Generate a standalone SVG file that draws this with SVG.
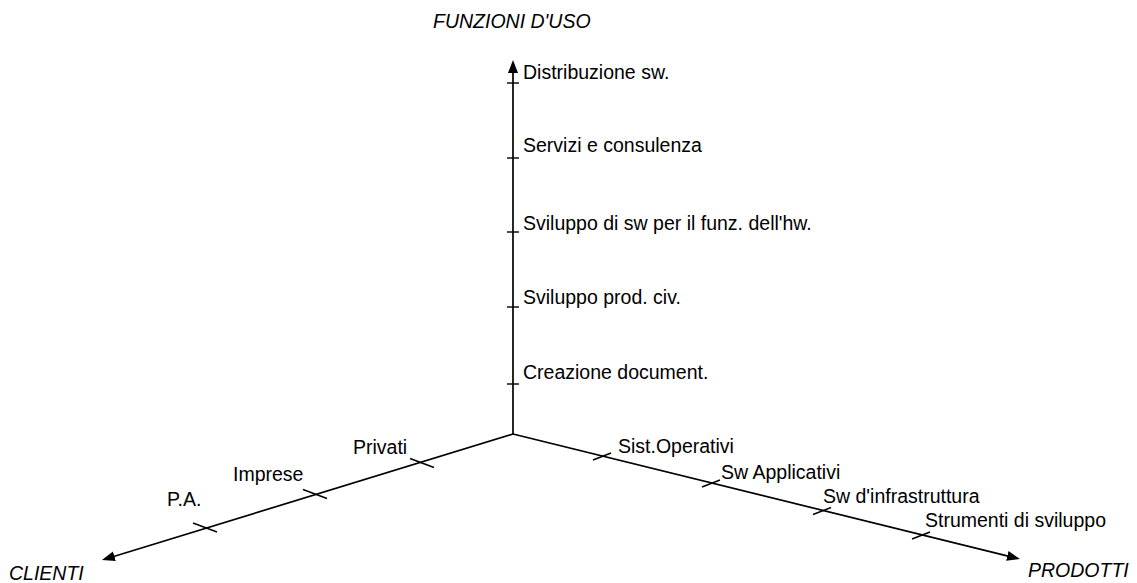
<svg xmlns="http://www.w3.org/2000/svg" width="1137" height="583" viewBox="0 0 1137 583">
<style>
.ax{stroke:#000;stroke-width:1.7;fill:none}
.tk{stroke:#000;stroke-width:1.4;fill:none}
.lb{font-family:"Liberation Sans",Arial,sans-serif;font-size:19.5px;fill:#000}
.tt{font-family:"Liberation Sans",Arial,sans-serif;font-size:19.5px;font-style:italic;fill:#000}
</style>
<defs>
<marker id="ah" markerUnits="userSpaceOnUse" markerWidth="14" markerHeight="11" refX="5" refY="5" orient="auto" viewBox="0 0 14 10">
<path d="M0,0 L13,5 L0,10 z" fill="#000"/>
</marker>
</defs>
<rect width="1137" height="583" fill="#fff"/>
<g id="connectors">
<line class="ax" x1="513" y1="434" x2="513" y2="68" marker-end="url(#ah)"/>
<line class="ax" x1="513" y1="434" x2="109.6" y2="557.7" marker-end="url(#ah)"/>
<line class="ax" x1="513" y1="434" x2="1012.2" y2="557.1" marker-end="url(#ah)"/>
<g id="ticks">
<line class="tk" x1="507" y1="83" x2="519" y2="83"/>
<line class="tk" x1="507" y1="158" x2="519" y2="158"/>
<line class="tk" x1="507" y1="232" x2="519" y2="232"/>
<line class="tk" x1="507" y1="307" x2="519" y2="307"/>
<line class="tk" x1="507" y1="384" x2="519" y2="384"/>
<line class="tk" x1="410" y1="458.5" x2="434" y2="467.5"/>
<line class="tk" x1="303" y1="489.5" x2="327" y2="498.5"/>
<line class="tk" x1="193" y1="523" x2="217" y2="532"/>
<line class="tk" x1="593" y1="460" x2="611" y2="453"/>
<line class="tk" x1="702" y1="487" x2="720" y2="480"/>
<line class="tk" x1="813" y1="514.5" x2="831" y2="507.5"/>
<line class="tk" x1="912" y1="539" x2="930" y2="532"/>
</g>
</g>
<g id="axis-funzioni"><text class="tt" x="433" y="28">FUNZIONI D'USO</text></g>
<g id="axis-clienti"><text class="tt" x="9" y="580">CLIENTI</text></g>
<g id="axis-prodotti"><text class="tt" x="1028" y="577">PRODOTTI</text></g>
<g id="f-distribuzione"><text class="lb" x="523" y="79">Distribuzione sw.</text></g>
<g id="f-servizi"><text class="lb" x="523" y="152">Servizi e consulenza</text></g>
<g id="f-sviluppo-hw"><text class="lb" x="523" y="230">Sviluppo di sw per il funz. dell'hw.</text></g>
<g id="f-sviluppo-civ"><text class="lb" x="523" y="304">Sviluppo prod. civ.</text></g>
<g id="f-creazione"><text class="lb" x="523" y="379">Creazione document.</text></g>
<g id="c-privati"><text class="lb" x="353" y="454">Privati</text></g>
<g id="c-imprese"><text class="lb" x="233" y="481">Imprese</text></g>
<g id="c-pa"><text class="lb" x="167" y="506">P.A.</text></g>
<g id="p-sistoperativi"><text class="lb" x="618" y="453">Sist.Operativi</text></g>
<g id="p-swapplicativi"><text class="lb" x="721" y="479">Sw Applicativi</text></g>
<g id="p-swinfra"><text class="lb" x="823" y="503">Sw d'infrastruttura</text></g>
<g id="p-strumenti"><text class="lb" x="925" y="527">Strumenti di sviluppo</text></g>
</svg>
